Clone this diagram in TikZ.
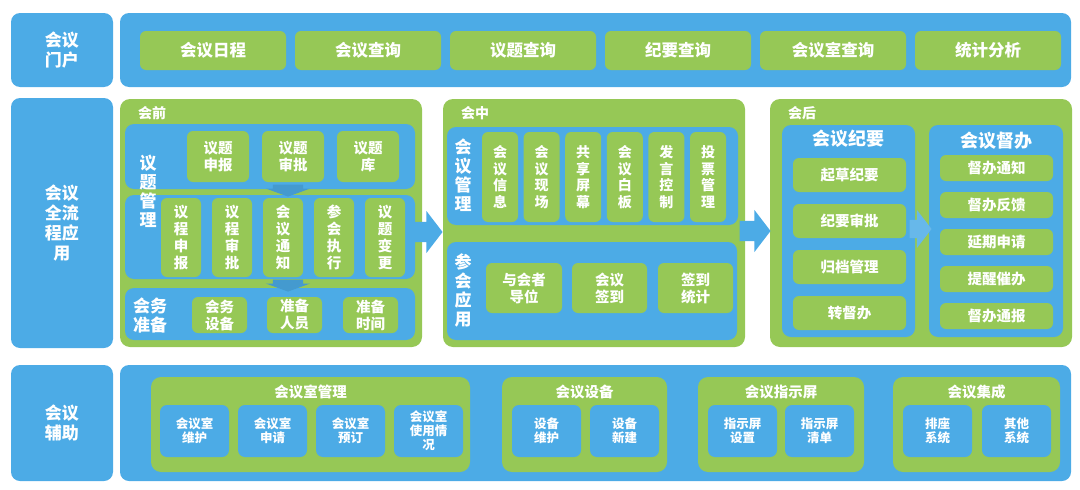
\documentclass[tikz,border=0pt]{standalone}
\usepackage{fontspec}
\setmainfont{Noto Sans CJK SC}
\usepackage{xcolor}
\definecolor{myblue}{RGB}{76, 171, 230}
\definecolor{mygreen}{RGB}{150, 200, 86}
\usepackage{tikz}
\usetikzlibrary{
    shapes.arrows,
    positioning
}
\tikzstyle{lbl} = [
    fill=myblue,
    rounded corners=9pt,
    text=white,
    inner sep=0pt,
    align=center,
    font=\bfseries\fontsize{17}{20}\selectfont
]
\tikzstyle{bluebox} = [fill=myblue, rounded corners=9pt, inner sep=0pt]
\tikzstyle{greenbox} = [fill=mygreen, rounded corners=10pt, inner sep=0pt]
\tikzstyle{gitem} = [
    fill=mygreen,
    rounded corners=6pt,
    text=white,
    inner sep=0pt,
    align=center,
    font=\bfseries\fontsize{14.5}{17}\selectfont
]
\tikzstyle{bitem} = [
    fill=myblue,
    rounded corners=7pt,
    text=white,
    inner sep=0pt,
    align=center,
    font=\bfseries\fontsize{12.5}{14}\selectfont
]
\tikzstyle{tag} = [text=white, inner sep=0pt, font=\bfseries\fontsize{14}{16}\selectfont]
\tikzstyle{side} = [text=white, inner sep=0pt, align=center, font=\bfseries\fontsize{17}{19}\selectfont]
\tikzstyle{flow} = [
    single arrow,
    fill=myblue,
    inner xsep=0pt,
    inner ysep=10pt,
    minimum height=31pt,
    single arrow head extend=11pt,
    single arrow tip angle=105
]
\tikzstyle{drop} = [
    single arrow,
    fill=myblue!90!black,
    rotate=-90,
    inner xsep=0pt,
    inner ysep=15pt,
    minimum height=12pt,
    single arrow head extend=7pt,
    single arrow tip angle=140
]

\begin{document}
\begin{tikzpicture}[x=1pt, y=-1pt]
\useasboundingbox (0,0) rectangle (1080,490);

% Kasten aus zwei Ecken
\newcommand{\mkbox}[7]{
    \node[#1, minimum width={((#5)-(#3))*1pt}, minimum height={((#6)-(#4))*1pt}]
        (#2) at ({((#3)+(#5))/2}, {((#4)+(#6))/2}) {#7};
}

% 会议门户
\mkbox{lbl}{portal}{11}{13}{113}{87}{会议\\门户}
\mkbox{bluebox}{portalrow}{120}{13}{1071}{87}{}
\foreach \t [count=\i from 0] in {会议日程,会议查询,议题查询,纪要查询,会议室查询,统计分析} {
    \mkbox{gitem, font=\bfseries\fontsize{16.5}{19}\selectfont}{p\i}{140+155*\i}{31}{286+155*\i}{70}{\t}
}

% 会议全流程应用
\mkbox{lbl}{flowlbl}{11}{98}{113}{348}{会议\\全流\\程应\\用}
\mkbox{greenbox}{vor}{120}{99}{422}{347}{}
\mkbox{greenbox}{zhong}{443}{99}{745}{347}{}
\mkbox{greenbox}{hou}{770}{99}{1072}{347}{}
\node[tag, below right=7pt and 18pt of vor.north west] (vortag) {会前};
\node[tag, below right=7pt and 18pt of zhong.north west] (zhongtag) {会中};
\node[tag, below right=7pt and 18pt of hou.north west] (houtag) {会后};

% 会前
\mkbox{bluebox}{thema}{125}{124}{415}{189}{}
\mkbox{bluebox}{agenda}{125}{195}{415}{279}{}
\mkbox{bluebox}{prep}{125}{288}{415}{340}{}
\node[drop, anchor=tip] (d1) at ([xshift=18pt, yshift=-2pt]agenda.north) {};
\node[drop, anchor=tip] (d2) at ([xshift=18pt, yshift=-4pt]prep.north) {};
\mkbox{gitem}{t1}{187}{131}{249}{182}{议题\\申报}
\mkbox{gitem}{t2}{262}{131}{324}{182}{议题\\审批}
\mkbox{gitem}{t3}{337}{131}{399}{182}{议题\\库}
\node[side] (themalbl) at (148,191) {议\\题\\管\\理};
\foreach \t [count=\i from 0] in {议\\程\\申\\报, 议\\程\\审\\批, 会\\议\\通\\知, 参\\会\\执\\行, 议\\题\\变\\更} {
    \mkbox{gitem}{a\i}{161+51*\i}{198}{201+51*\i}{277}{\t}
}
\mkbox{gitem}{r1}{192}{297}{247}{333}{会务\\设备}
\mkbox{gitem}{r2}{267}{297}{322}{333}{准备\\人员}
\mkbox{gitem}{r3}{343}{297}{398}{333}{准备\\时间}
\node[side] (preplbl) at (150,315) {会务\\准备};

% 会中
\mkbox{bluebox}{mgmt}{447}{127}{738}{225}{}
\mkbox{bluebox}{apply}{447}{242}{737}{340}{}
\node[side] (mgmtlbl) at (463,175) {会\\议\\管\\理};
\foreach \t [count=\i from 0] in {会\\议\\信\\息, 会\\议\\现\\场, 共\\享\\屏\\幕, 会\\议\\白\\板, 发\\言\\控\\制, 投\\票\\管\\理} {
    \mkbox{gitem, font=\bfseries\fontsize{14}{16.5}\selectfont}{m\i}{482+41.6*\i}{132}{518+41.6*\i}{222}{\t}
}
\node[side] (applylbl) at (463,290) {参\\会\\应\\用};
\mkbox{gitem}{s1}{486}{263}{562}{313}{与会者\\导位}
\mkbox{gitem}{s2}{572}{263}{647}{313}{会议\\签到}
\mkbox{gitem}{s3}{658}{263}{733}{313}{签到\\统计}

% 会后
\mkbox{bluebox}{jiyao}{782}{125}{915}{337}{}
\mkbox{bluebox}{duban}{929}{125}{1063}{337}{}
\node[side, font=\bfseries\fontsize{18}{20}\selectfont, below=5pt of jiyao.north] (jiyaotitle) {会议纪要};
\node[side, font=\bfseries\fontsize{18}{20}\selectfont, below=7pt of duban.north] (dubantitle) {会议督办};
\foreach \t [count=\i from 0] in {起草纪要,纪要审批,归档管理,转督办} {
    \mkbox{gitem}{j\i}{793}{158+46*\i}{906}{192+46*\i}{\t}
}
\foreach \t [count=\i from 0] in {督办通知,督办反馈,延期申请,提醒催办,督办通报} {
    \mkbox{gitem}{b\i}{940}{155+37*\i}{1053}{181+37*\i}{\t}
}

% Pfeile
\node[flow, anchor=tip, yshift=-9pt] (f1) at (zhong.west) {};
\node[flow, anchor=tip, xshift=1pt, yshift=-8pt] (f2) at (hou.west) {};
\node[flow, anchor=tip, xshift=3pt, yshift=2pt, minimum height=22pt, inner ysep=9pt,
    single arrow head extend=10pt, fill=myblue!85] (f3) at (duban.west) {};

% 会议辅助
\mkbox{lbl}{aux}{11}{365}{113}{481}{会议\\辅助}
\mkbox{bluebox}{auxrow}{120}{365}{1071}{481}{}
\mkbox{greenbox}{room}{151}{377}{470}{472}{}
\mkbox{greenbox}{equip}{502}{377}{667}{472}{}
\mkbox{greenbox}{screen}{698}{377}{864}{472}{}
\mkbox{greenbox}{integ}{893}{377}{1060}{472}{}
\foreach \g/\t in {room/会议室管理, equip/会议设备, screen/会议指示屏, integ/会议集成} {
    \node[tag, font=\bfseries\fontsize{14.5}{16}\selectfont, below=8pt of \g.north] (\g title) {\t};
}
\foreach \t [count=\i from 0] in {会议室\\维护, 会议室\\申请, 会议室\\预订, 会议室\\使用情\\况} {
    \mkbox{bitem}{k\i}{160+78*\i}{405}{229+78*\i}{457}{\t}
}
\mkbox{bitem}{e1}{512}{405}{581}{457}{设备\\维护}
\mkbox{bitem}{e2}{590}{405}{659}{457}{设备\\新建}
\mkbox{bitem}{z1}{708}{405}{777}{457}{指示屏\\设置}
\mkbox{bitem}{z2}{785}{405}{854}{457}{指示屏\\清单}
\mkbox{bitem}{x1}{903}{405}{972}{457}{排座\\系统}
\mkbox{bitem}{x2}{982}{405}{1051}{457}{其他\\系统}

\end{tikzpicture}
\end{document}
